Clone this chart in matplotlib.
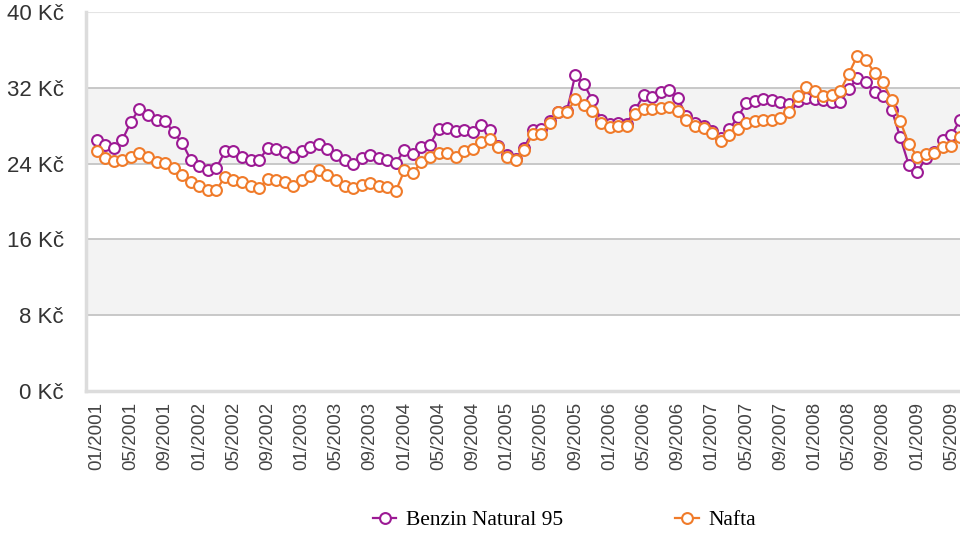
import matplotlib
matplotlib.use("Agg")
import matplotlib.pyplot as plt
from matplotlib.lines import Line2D

# mesicni ceny PHM 01/2001 - 06/2009 (Kc/l)
months = [f"{m:02d}/{y}" for y in range(2001, 2010) for m in range(1, 13)][:102]

benzin = [26.5, 26.0, 25.6, 26.5, 28.4, 29.8, 29.1, 28.6, 28.5, 27.3,
          26.2, 24.4, 23.7, 23.3, 23.5, 25.3, 25.3, 24.7, 24.4, 24.4,
          25.6, 25.5, 25.2, 24.7, 25.3, 25.8, 26.1, 25.5, 24.9, 24.4,
          24.0, 24.6, 24.9, 24.6, 24.4, 24.1, 25.4, 25.0, 25.7, 26.0,
          27.7, 27.8, 27.4, 27.5, 27.3, 28.1, 27.5, 25.9, 24.9, 24.5,
          25.6, 27.5, 27.7, 28.5, 29.4, 29.5, 33.4, 32.4, 30.7, 28.6,
          28.2, 28.3, 28.2, 29.7, 31.2, 31.0, 31.6, 31.8, 30.9, 29.0,
          28.3, 28.0, 27.4, 26.7, 27.6, 28.9, 30.4, 30.6, 30.8, 30.7,
          30.5, 30.3, 30.6, 30.9, 30.8, 30.7, 30.5, 30.5, 31.9, 33.0,
          32.6, 31.6, 31.1, 29.7, 26.8, 23.9, 23.1, 24.6, 25.2, 26.5,
          27.0, 28.6]

nafta = [25.3, 24.6, 24.3, 24.4, 24.7, 25.1, 24.7, 24.2, 24.1, 23.5,
         22.8, 22.1, 21.6, 21.2, 21.2, 22.6, 22.3, 22.1, 21.6, 21.4,
         22.4, 22.3, 22.1, 21.6, 22.3, 22.7, 23.3, 22.8, 22.3, 21.6,
         21.4, 21.7, 21.9, 21.6, 21.5, 21.1, 23.3, 23.0, 24.2, 24.7,
         25.1, 25.1, 24.7, 25.3, 25.5, 26.3, 26.6, 25.7, 24.7, 24.4,
         25.4, 27.1, 27.1, 28.3, 29.4, 29.4, 30.8, 30.2, 29.6, 28.3,
         27.9, 28.0, 28.0, 29.2, 29.8, 29.8, 29.9, 30.0, 29.6, 28.6,
         28.0, 27.8, 27.2, 26.4, 27.0, 27.6, 28.3, 28.5, 28.6, 28.6,
         28.8, 29.4, 31.1, 32.1, 31.7, 31.1, 31.2, 31.7, 33.5, 35.4,
         34.9, 33.6, 32.6, 30.7, 28.5, 26.1, 24.7, 25.0, 25.1, 25.7,
         25.9, 26.8]

y_ticks = [0, 8, 16, 24, 32, 40]

purple = "#9c1a94"
orange = "#f07b2a"

fig = plt.figure(figsize=(9.6, 5.4), dpi=100)
ax = fig.add_axes([86 / 960, 1 - 391 / 540, 1 - 86 / 960, (391 - 12) / 540])

x = list(range(len(months)))

# stridave pruhy pozadi
for lo, hi in zip(y_ticks[:-1], y_ticks[1:]):
    if (lo // 8) % 2 == 1:
        ax.axhspan(lo, hi, color="#f3f3f3", zorder=0, lw=0)
for t in y_ticks[1:-1]:
    ax.axhline(t, color="#c4c4c4", lw=1.3, zorder=1)
ax.axhline(40, color="#e4e4e4", lw=1.5, zorder=1)

ax.plot(x, benzin, color=purple, lw=1.6, marker="o", ms=7.8,
        mfc="white", mec=purple, mew=1.5, zorder=3)
ax.plot(x, nafta, color=orange, lw=1.6, marker="o", ms=7.8,
        mfc="white", mec=orange, mew=1.5, zorder=4)

ax.set_xlim(-1.25, 101.0)
ax.set_ylim(0, 40)
ax.set_yticks(y_ticks)
ax.set_yticklabels([f"{t} Kč" for t in y_ticks])
ax.set_xticks(x[::4])
ax.set_xticklabels(months[::4], rotation=90)

for s in ["top", "right"]:
    ax.spines[s].set_visible(False)
ax.spines["left"].set_color("#dcdcdc")
ax.spines["left"].set_linewidth(2.5)
ax.spines["bottom"].set_color("#dcdcdc")
ax.spines["bottom"].set_linewidth(2.5)
ax.tick_params(axis="both", length=0)
ax.tick_params(axis="y", labelsize=16, labelcolor="#333333", pad=16)
ax.tick_params(axis="x", labelsize=13.5, labelcolor="#444444", pad=8)
for lab in ax.get_xticklabels() + ax.get_yticklabels():
    lab.set_fontfamily("Liberation Sans")

handles = [
    Line2D([], [], color=purple, lw=1.6, marker="o", ms=7.8, mfc="white", mec=purple, mew=1.5),
    Line2D([], [], color=orange, lw=1.6, marker="o", ms=7.8, mfc="white", mec=orange, mew=1.5),
]
fig.legend(handles, ["Benzin Natural 95", "Nafta"], loc="center",
           bbox_to_anchor=(0.588, 0.037), ncol=2, frameon=False,
           prop={"family": "Liberation Serif", "size": 15.5},
           handlelength=1.1, handletextpad=0.45, columnspacing=5.2)

fig.savefig("out.png", dpi=100)
